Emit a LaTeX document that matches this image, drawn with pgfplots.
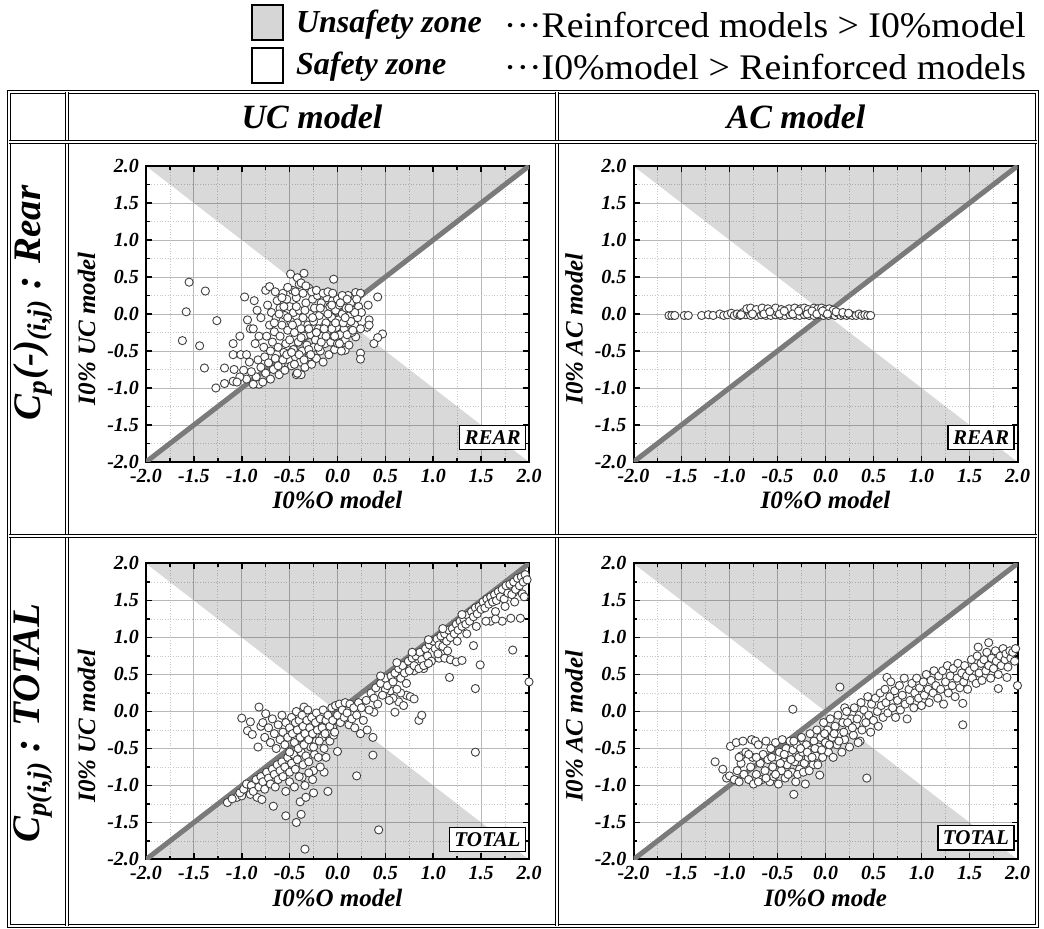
\documentclass[border=0pt]{standalone}
\usepackage{pgfplots}
\pgfplotsset{compat=1.18}
\usepackage{fontspec}
\setmainfont{Liberation Serif}
\newfontfamily\legfont[FakeStretch=1.05]{Liberation Serif}

\pgfplotsset{
  cell/.style={
    scale only axis,
    width=191.5pt, height=148pt,
    xmin=-2, xmax=2, ymin=-2, ymax=2,
    xtick={-2,-1.5,...,2}, ytick={-2,-1.5,...,2},
    minor tick num=1,
    grid=both,
    major grid style={black!28, line width=0.45pt},
    minor grid style={black!22, line width=0.35pt, densely dotted},
    axis line style={line width=1pt},
    tick style={black, line width=0.8pt},
    major tick length=3pt, minor tick length=1.8pt,
    tick align=inside,
    /pgf/number format/fixed,
    /pgf/number format/fixed zerofill,
    /pgf/number format/precision=1,
    /pgf/number format/assume math mode=true,
    tick label style={font=\fontsize{10}{11}\selectfont\bfseries\itshape},
    label style={font=\fontsize{12.5}{13}\selectfont\bfseries\itshape},
    xlabel style={yshift=2.5pt},
    ylabel style={at={(ticklabel cs:0.45)}, yshift=-1pt},
  },
  zone/.style={fill=black, fill opacity=0.15, draw=none},
  pts/.style={only marks, mark=*, mark size=2.05pt,
    mark options={fill=white, draw=black!75, line width=0.45pt}},
  diag/.style={black!52, line width=2.5pt},
}
\tikzset{
  tag/.style={draw=black, line width=0.6pt, fill=white, inner sep=2.5pt,
    anchor=south east, font=\fontsize{10.5}{11}\selectfont\bfseries\itshape},
  dbl/.style={draw=black, double=white, double distance=1.1pt, line width=0.55pt},
}

\begin{document}
\begin{tikzpicture}
\path (0,0) rectangle (522pt,464.5pt);

% legend
\draw[fill=black!16, line width=0.6pt] (126pt,444.5pt) rectangle (141.5pt,462pt);
\draw[fill=white, line width=0.6pt] (126pt,423pt) rectangle (141.5pt,440.5pt);
\node[anchor=west, font=\fontsize{16}{18}\selectfont\bfseries\itshape] at (144.5pt,452pt) {Unsafety zone};
\node[anchor=west, font=\fontsize{16}{18}\selectfont\bfseries\itshape] at (144.5pt,431pt) {Safety zone};
\node[anchor=east, font=\fontsize{18}{20}\legfont] at (516.5pt,452pt)
  {\textperiodcentered\textperiodcentered\textperiodcentered Reinforced models > I0\%model};
\node[anchor=east, font=\fontsize{18}{20}\legfont] at (516.5pt,431pt)
  {\textperiodcentered\textperiodcentered\textperiodcentered I0\%model > Reinforced models};

% table frame
\draw[dbl] (4.5pt,1.5pt) rectangle (518.5pt,418.5pt);
\draw[dbl] (33.5pt,1.5pt) -- (33.5pt,418.5pt);
\draw[dbl] (278.5pt,1.5pt) -- (278.5pt,418.5pt);
\draw[dbl] (4.5pt,393.5pt) -- (518.5pt,393.5pt);
\draw[dbl] (4.5pt,196.5pt) -- (518.5pt,196.5pt);

% headers
\node[font=\fontsize{17}{20}\selectfont\bfseries\itshape] at (156pt,406pt) {UC model};
\node[font=\fontsize{17}{20}\selectfont\bfseries\itshape] at (398pt,406pt) {AC model};
\node[rotate=90, font=\fontsize{19.5}{22}\selectfont\bfseries\itshape] at (16.5pt,313pt)
  {C\textsubscript{p}(-)\textsubscript{(i,j)} : Rear};
\node[rotate=90, font=\fontsize{19.5}{22}\selectfont\bfseries\itshape] at (16.5pt,103pt)
  {C\textsubscript{p(i,j)} : TOTAL};

% ---------- UC model, rear ----------
\begin{axis}[cell, at={(73pt,233.5pt)}, anchor=south west,
  xlabel={I0\%O model}, ylabel={I0\% UC model}]
\addplot[zone] coordinates {(-2,2) (2,2) (0,0)} -- cycle;
\addplot[zone] coordinates {(-2,-2) (2,-2) (0,0)} -- cycle;
\addplot[pts] table {
x y
-1.55 0.43
-1.38 0.31
-1.58 0.03
-1.26 -0.09
-1.62 -0.36
-1.44 -0.43
-1.39 -0.73
-1.27 -1.00
-0.97 0.23
-0.87 0.18
-0.94 -0.08
-0.91 -0.20
-1.02 -0.30
-1.09 -0.40
-1.09 -0.55
-1.01 -0.55
-1.18 -0.73
-1.18 -0.94
-1.09 -0.91
-0.75 0.32
-0.71 0.37
-0.49 0.54
-0.42 0.49
-0.35 0.55
-0.04 0.47
0.19 0.29
0.24 0.28
0.32 0.12
0.33 -0.08
0.31 -0.18
0.19 -0.31
0.08 -0.49
0.24 -0.53
0.24 -0.61
-0.82 -0.95
-0.43 -0.82
-0.38 -0.82
-0.59 -0.77
0.42 0.23
0.47 -0.27
0.42 -0.32
0.38 -0.40
0.33 -0.15
-0.85 -0.85
-0.83 -0.62
-0.82 -0.30
-0.80 -0.72
-0.80 -0.05
-0.78 -0.92
-0.77 -0.45
-0.76 -0.58
-0.75 -0.80
-0.74 -0.30
-0.73 0.12
-0.72 -0.66
-0.71 -0.15
-0.70 -0.50
-0.70 -0.88
-0.69 0.02
-0.68 -0.38
-0.67 -0.75
-0.66 -0.24
-0.65 -0.60
-0.64 -0.05
-0.63 0.18
-0.62 -0.45
-0.61 -0.82
-0.60 -0.30
-0.60 0.08
-0.59 -0.68
-0.58 -0.15
-0.57 0.28
-0.56 -0.52
-0.55 -0.02
-0.55 -0.76
-0.54 -0.40
-0.53 0.20
-0.52 -0.22
-0.51 -0.62
-0.50 0.10
-0.50 -0.35
-0.49 -0.10
-0.48 -0.70
-0.47 0.32
-0.46 -0.48
-0.46 0.02
-0.45 -0.25
-0.44 -0.58
-0.43 0.22
-0.42 -0.12
-0.42 -0.80
-0.41 -0.38
-0.40 0.40
-0.40 0.05
-0.39 -0.65
-0.38 -0.20
-0.37 -0.50
-0.36 0.28
-0.36 -0.05
-0.35 -0.30
-0.34 -0.72
-0.33 0.15
-0.32 -0.42
-0.31 -0.15
-0.30 0.35
-0.30 -0.58
-0.29 0.00
-0.28 -0.28
-0.27 -0.68
-0.26 0.20
-0.25 -0.10
-0.25 -0.45
-0.24 0.08
-0.23 -0.35
-0.22 -0.60
-0.21 0.25
-0.20 -0.20
-0.19 -0.02
-0.18 -0.50
-0.17 0.15
-0.16 -0.30
-0.15 -0.65
-0.14 0.05
-0.13 -0.40
-0.12 -0.12
-0.11 0.22
-0.10 -0.25
-0.09 -0.55
-0.08 0.10
-0.07 -0.38
-0.06 -0.05
-0.05 0.18
-0.04 -0.30
-0.03 -0.48
-0.02 0.05
-0.01 -0.18
0.00 0.20
0.00 -0.40
0.01 -0.08
0.02 0.12
0.03 -0.28
0.04 -0.50
0.05 0.00
0.06 0.22
0.07 -0.20
0.08 -0.35
0.09 0.08
0.10 -0.12
0.11 0.25
0.12 -0.42
0.13 -0.02
0.14 0.15
0.15 -0.25
0.16 0.05
0.18 -0.15
0.20 0.20
0.21 -0.05
0.22 0.10
0.24 -0.20
0.25 0.02
-0.88 -0.95
-0.90 -0.78
-0.92 -0.65
-0.95 -0.88
-0.98 -0.76
-1.02 -0.85
-1.05 -0.92
-1.08 -0.75
-0.95 -0.55
-0.86 -0.40
-0.88 -0.20
-0.84 0.05
-0.65 0.30
-0.58 0.22
-0.52 0.36
-0.44 0.30
-0.38 0.42
-0.33 0.38
-0.27 0.30
-0.22 0.32
-0.15 0.28
-0.10 0.30
-0.05 0.28
0.05 0.25
0.10 0.20
-0.62 -0.70
-0.57 -0.62
-0.53 -0.55
-0.48 -0.52
-0.45 -0.68
-0.40 -0.55
-0.35 -0.62
-0.30 -0.48
-0.28 -0.55
-0.20 -0.45
-0.17 -0.38
-0.12 -0.30
-0.06 -0.20
-0.02 -0.12
0.02 -0.40
0.06 -0.12
0.10 -0.28
0.14 -0.10
0.18 0.02
-0.66 -0.12
-0.61 0.00
-0.56 0.10
-0.52 -0.05
-0.47 -0.15
-0.43 0.10
-0.38 -0.32
-0.34 0.05
-0.30 -0.20
-0.26 -0.05
-0.22 -0.25
-0.18 0.08
-0.14 -0.20
-0.10 0.00
-0.06 0.12
-0.03 -0.30
0.03 0.15
0.08 -0.05
0.12 0.08
0.16 -0.22
};
\addplot[diag] coordinates {(-2,-2) (2,2)};
\node[tag] at (axis cs:1.97,-1.84) {REAR};
\end{axis}

% ---------- AC model, rear ----------
\begin{axis}[cell, at={(316.75pt,233.5pt)}, anchor=south west, width=192pt,
  xlabel={I0\%O model}, ylabel={I0\% AC model}]
\addplot[zone] coordinates {(-2,2) (2,2) (0,0)} -- cycle;
\addplot[zone] coordinates {(-2,-2) (2,-2) (0,0)} -- cycle;
\addplot[pts] table {
x y
-1.63 -0.02
-1.60 -0.02
-1.57 -0.02
-1.47 -0.02
-1.43 -0.02
-1.29 -0.02
-1.22 -0.01
-1.17 -0.02
-1.10 0.00
-1.06 -0.02
-1.02 -0.01
-0.98 0.01
-0.95 -0.02
-0.92 0.00
-0.89 -0.02
-0.86 0.02
-0.83 -0.01
-0.80 0.03
-0.78 -0.02
-0.75 0.01
-0.72 -0.02
-0.70 0.03
-0.67 -0.01
-0.65 0.02
-0.62 -0.02
-0.60 0.01
-0.57 -0.02
-0.55 0.03
-0.52 -0.01
-0.50 0.02
-0.47 -0.02
-0.45 0.01
-0.42 -0.02
-0.40 0.03
-0.37 -0.01
-0.35 0.02
-0.32 -0.02
-0.30 0.01
-0.27 -0.02
-0.25 0.03
-0.22 -0.01
-0.20 0.02
-0.17 -0.02
-0.15 0.01
-0.12 -0.02
-0.10 0.03
-0.07 -0.01
-0.05 0.02
-0.02 -0.02
0.00 0.01
0.03 -0.02
0.05 0.02
0.08 -0.01
0.10 -0.02
0.13 0.01
0.16 -0.02
0.19 -0.01
0.22 -0.02
0.25 -0.01
0.28 -0.02
0.32 -0.02
0.35 0.00
0.38 -0.02
0.41 -0.01
0.44 -0.02
0.47 -0.02
-0.82 0.07
-0.78 0.08
-0.72 0.06
-0.66 0.08
-0.60 0.07
-0.52 0.08
-0.46 0.06
-0.38 0.07
-0.32 0.08
-0.26 0.07
-0.22 0.08
-0.18 0.06
-0.12 0.08
-0.08 0.07
-0.04 0.08
0.00 0.06
0.04 0.07
0.08 0.05
-0.88 -0.01
-0.76 0.00
-0.64 0.00
-0.58 0.03
-0.48 0.00
-0.43 0.04
-0.34 0.00
-0.28 0.04
-0.19 0.00
-0.14 0.04
-0.09 0.00
-0.03 0.04
0.02 0.00
0.11 0.03
0.18 0.02
0.24 0.01
};
\addplot[diag] coordinates {(-2,-2) (2,2)};
\node[tag] at (axis cs:1.97,-1.84) {REAR};
\end{axis}

% ---------- UC model, total ----------
\begin{axis}[cell, at={(73pt,34.75pt)}, anchor=south west,
  xlabel={I0\%O model}, ylabel={I0\% UC model}]
\addplot[zone] coordinates {(-2,2) (2,2) (0,0)} -- cycle;
\addplot[zone] coordinates {(-2,-2) (2,-2) (0,0)} -- cycle;
\addplot[pts] table {
x y
-1.15 -1.23
-1.05 -1.16
-1.00 -1.14
-0.91 -1.12
-0.84 -1.16
-0.79 -1.19
-0.67 -1.28
-0.54 -1.41
-0.43 -1.50
-0.38 -1.39
-0.34 -1.86
-0.39 -1.22
-0.33 -1.16
-0.25 -1.10
-0.10 -1.08
-0.14 -0.82
-0.25 -0.80
-0.30 -0.83
-0.37 -0.89
0.20 -0.87
0.43 -1.60
0.00 -0.54
0.37 -0.59
0.37 -0.35
1.44 -0.55
1.44 0.31
1.49 0.63
1.42 0.89
1.83 0.83
1.17 0.46
2.00 0.40
1.81 1.26
1.91 1.26
1.60 1.22
1.72 1.22
-1.00 -0.09
-0.91 -0.14
-0.94 -0.26
-0.89 -0.31
-0.82 0.06
-0.83 -0.48
-0.75 -0.03
-0.35 0.06
0.38 -0.01
0.60 -0.01
0.64 0.13
0.69 0.08
0.85 -0.12
0.88 -0.05
1.06 0.72
1.12 0.72
1.18 0.70
1.24 0.67
1.30 0.69
0.72 0.22
0.76 0.20
0.80 0.17
0.66 0.25
0.58 0.18
0.55 0.28
0.50 0.30
1.93 1.59
1.84 1.61
-1.10 -1.18
-1.02 -1.10
-0.98 -1.05
-0.95 -0.98
-0.90 -1.00
-0.88 -1.08
-0.85 -0.92
-0.82 -1.02
-0.80 -0.88
-0.78 -0.95
-0.76 -1.05
-0.74 -0.82
-0.72 -0.90
-0.70 -0.98
-0.68 -0.78
-0.66 -0.85
-0.65 -1.02
-0.63 -0.72
-0.62 -0.92
-0.60 -0.80
-0.58 -0.68
-0.57 -0.88
-0.55 -0.75
-0.54 -1.08
-0.52 -0.62
-0.50 -0.82
-0.50 -0.95
-0.48 -0.70
-0.46 -0.58
-0.45 -1.02
-0.44 -0.78
-0.42 -0.65
-0.40 -0.88
-0.38 -0.55
-0.36 -0.72
-0.34 -1.00
-0.33 -0.60
-0.30 -0.68
-0.28 -0.48
-0.26 -0.92
-0.24 -0.58
-0.22 -0.40
-0.20 -0.62
-0.18 -0.75
-0.16 -0.35
-0.14 -0.50
-0.12 -0.62
-0.10 -0.28
-0.08 -0.40
-0.05 -0.22
-0.04 -0.32
-0.80 -0.20
-0.78 -0.15
-0.76 -0.35
-0.72 -0.22
-0.70 -0.42
-0.68 -0.10
-0.66 -0.30
-0.64 -0.50
-0.62 -0.18
-0.60 -0.38
-0.58 -0.05
-0.57 -0.28
-0.55 -0.45
-0.54 -0.15
-0.52 -0.35
-0.50 -0.22
-0.50 -0.55
-0.48 -0.08
-0.47 -0.30
-0.45 -0.42
-0.44 -0.15
-0.43 0.00
-0.42 -0.25
-0.41 -0.50
-0.40 -0.12
-0.39 -0.35
-0.37 -0.05
-0.36 -0.20
-0.35 -0.45
-0.34 -0.30
-0.32 -0.12
-0.31 0.02
-0.30 -0.38
-0.29 -0.22
-0.27 -0.08
-0.26 -0.30
-0.25 -0.48
-0.23 -0.15
-0.22 -0.02
-0.21 -0.25
-0.19 -0.40
-0.18 -0.10
-0.16 -0.22
-0.15 0.02
-0.13 -0.30
-0.12 -0.12
-0.10 -0.05
-0.08 -0.20
-0.06 0.05
-0.05 -0.12
-0.03 -0.28
-0.02 0.08
0.00 -0.05
0.02 0.10
0.03 -0.15
0.05 0.02
0.07 -0.08
0.08 0.12
0.10 -0.02
0.12 -0.18
0.13 0.10
0.15 -0.10
0.17 0.05
0.18 -0.22
0.20 -0.05
0.22 0.12
0.24 -0.30
0.25 0.05
0.27 -0.12
0.30 0.15
0.31 -0.25
0.33 0.02
0.35 0.25
0.38 0.18
0.40 0.32
0.42 0.10
0.45 0.38
0.47 0.22
0.50 0.45
0.52 0.35
0.54 0.15
0.56 0.48
0.58 0.40
0.60 0.52
0.62 0.30
0.64 0.58
0.66 0.45
0.68 0.62
0.70 0.52
0.72 0.38
0.74 0.68
0.76 0.58
0.78 0.72
0.80 0.55
0.82 0.75
0.84 0.65
0.86 0.80
0.88 0.70
0.90 0.58
0.92 0.85
0.94 0.75
0.96 0.90
0.98 0.68
1.00 0.95
1.02 0.85
1.04 0.98
1.06 0.90
1.08 1.02
1.10 0.88
1.12 1.05
1.14 0.95
1.16 1.10
1.18 1.00
1.20 1.12
1.22 1.05
1.24 1.18
1.26 1.10
1.28 1.22
1.30 1.15
1.32 1.25
1.34 1.18
1.36 1.30
1.38 1.22
1.40 1.35
1.42 1.28
1.44 1.40
1.46 1.32
1.48 1.42
1.50 1.38
1.52 1.48
1.54 1.40
1.56 1.52
1.58 1.45
1.60 1.55
1.62 1.48
1.64 1.58
1.66 1.50
1.68 1.62
1.70 1.55
1.72 1.65
1.74 1.52
1.76 1.70
1.78 1.60
1.80 1.72
1.82 1.58
1.84 1.75
1.86 1.65
1.88 1.80
1.90 1.70
1.92 1.82
1.94 1.75
1.96 1.85
1.98 1.78
0.75 0.55
0.80 0.62
0.85 0.58
0.90 0.62
0.95 0.65
1.05 0.78
1.15 0.82
1.25 0.95
1.35 1.05
1.45 1.15
1.55 1.22
1.65 1.35
1.75 1.42
1.85 1.48
1.95 1.55
1.65 1.25
0.45 0.48
0.62 0.66
0.78 0.80
0.95 0.97
1.10 1.12
1.30 1.31
};
\addplot[diag] coordinates {(-2,-2) (2,2)};
\node[tag] at (axis cs:1.97,-1.9) {TOTAL};
\end{axis}

% ---------- AC model, total ----------
\begin{axis}[cell, at={(316.75pt,34.75pt)}, anchor=south west, width=192pt,
  xlabel={I0\%O mode}, ylabel={I0\% AC model}]
\addplot[zone] coordinates {(-2,2) (2,2) (0,0)} -- cycle;
\addplot[zone] coordinates {(-2,-2) (2,-2) (0,0)} -- cycle;
\addplot[pts] table {
x y
-1.15 -0.68
-1.07 -0.78
-1.03 -0.90
-1.00 -0.87
-0.99 -0.47
-0.93 -0.42
-0.86 -0.40
-0.77 -0.38
-0.73 -0.40
-0.88 -0.60
-0.34 0.03
0.15 0.33
-0.33 -1.12
0.43 -0.90
0.36 -0.40
1.43 -0.18
1.43 0.11
1.80 0.31
1.89 0.46
1.70 0.93
1.59 0.87
0.64 0.46
0.20 0.05
2.00 0.35
-0.95 -0.92
-0.92 -0.80
-0.90 -0.95
-0.88 -0.70
-0.85 -0.85
-0.83 -0.55
-0.80 -0.92
-0.78 -0.75
-0.76 -0.62
-0.75 -0.98
-0.72 -0.85
-0.70 -0.45
-0.68 -0.70
-0.66 -0.92
-0.65 -0.58
-0.63 -0.80
-0.62 -0.40
-0.60 -0.65
-0.58 -0.95
-0.57 -0.50
-0.55 -0.75
-0.54 -0.88
-0.52 -0.42
-0.50 -0.62
-0.49 -0.98
-0.48 -0.55
-0.46 -0.80
-0.45 -0.38
-0.44 -0.68
-0.42 -0.90
-0.41 -0.50
-0.40 -0.72
-0.38 -0.60
-0.37 -0.40
-0.35 -0.82
-0.34 -0.52
-0.32 -0.68
-0.31 -0.95
-0.30 -0.45
-0.28 -0.62
-0.27 -0.78
-0.25 -0.35
-0.24 -0.55
-0.22 -0.70
-0.21 -0.98
-0.20 -0.45
-0.18 -0.62
-0.16 -0.30
-0.15 -0.52
-0.13 -0.72
-0.12 -0.40
-0.10 -0.60
-0.09 -0.25
-0.07 -0.48
-0.06 -0.86
-0.05 -0.35
-0.03 -0.62
-0.02 -0.15
0.00 -0.42
0.02 -0.25
0.03 -0.55
0.05 -0.10
0.07 -0.35
0.08 -0.62
0.10 -0.20
0.12 -0.45
0.13 -0.05
0.15 -0.30
0.17 -0.55
0.18 -0.15
0.20 -0.38
0.22 0.00
0.24 -0.25
0.25 -0.48
0.27 -0.10
0.29 -0.32
0.30 0.05
0.32 -0.18
0.34 -0.42
0.35 -0.05
0.37 0.12
0.38 -0.25
0.40 0.02
0.42 -0.15
0.44 0.20
0.45 -0.05
0.47 -0.28
0.48 0.10
0.50 -0.12
0.52 0.18
0.54 0.00
0.55 -0.20
0.57 0.25
0.58 0.08
0.60 -0.08
0.62 0.30
0.63 0.12
0.65 -0.02
0.67 0.20
0.68 0.40
0.70 0.05
0.72 0.28
0.73 -0.08
0.75 0.15
0.77 0.35
0.78 0.02
0.80 0.22
0.82 0.45
0.83 0.10
0.85 -0.10
0.87 0.30
0.88 0.15
0.90 0.38
0.92 0.05
0.93 0.25
0.95 0.45
0.97 0.18
0.98 0.32
1.00 0.08
1.02 0.40
1.03 0.22
1.05 0.50
1.07 0.30
1.08 0.12
1.10 0.42
1.12 0.25
1.13 0.55
1.15 0.35
1.17 0.18
1.18 0.48
1.20 0.30
1.22 0.55
1.23 0.10
1.25 0.40
1.27 0.62
1.28 0.25
1.30 0.48
1.32 0.35
1.33 0.58
1.35 0.20
1.37 0.45
1.38 0.65
1.40 0.32
1.42 0.52
1.44 0.40
1.45 0.62
1.47 0.48
1.48 0.30
1.50 0.55
1.52 0.70
1.53 0.45
1.55 0.60
1.57 0.38
1.58 0.75
1.60 0.52
1.62 0.65
1.63 0.42
1.65 0.70
1.67 0.55
1.68 0.80
1.70 0.62
1.72 0.45
1.73 0.72
1.75 0.58
1.77 0.82
1.78 0.68
1.80 0.50
1.82 0.75
1.83 0.62
1.85 0.85
1.87 0.70
1.88 0.78
1.90 0.60
1.92 0.82
1.93 0.72
1.95 0.80
1.97 0.68
1.98 0.85
-0.90 -0.62
-0.80 -0.58
-0.72 -0.62
-0.70 -0.95
-0.62 -0.90
-0.56 -0.62
-0.52 -0.85
-0.47 -0.70
-0.43 -0.58
-0.39 -0.85
-0.36 -0.65
-0.33 -0.40
-0.29 -0.85
-0.26 -0.50
-0.23 -0.82
-0.19 -0.55
-0.17 -0.80
-0.14 -0.62
-0.11 -0.50
-0.08 -0.72
-0.04 -0.52
-0.01 -0.30
0.04 -0.45
0.09 -0.30
0.14 -0.40
0.19 -0.28
0.23 -0.15
0.28 -0.22
0.33 -0.10
};
\addplot[diag] coordinates {(-2,-2) (2,2)};
\node[tag] at (axis cs:1.97,-1.88) {TOTAL};
\end{axis}
\end{tikzpicture}
\end{document}
